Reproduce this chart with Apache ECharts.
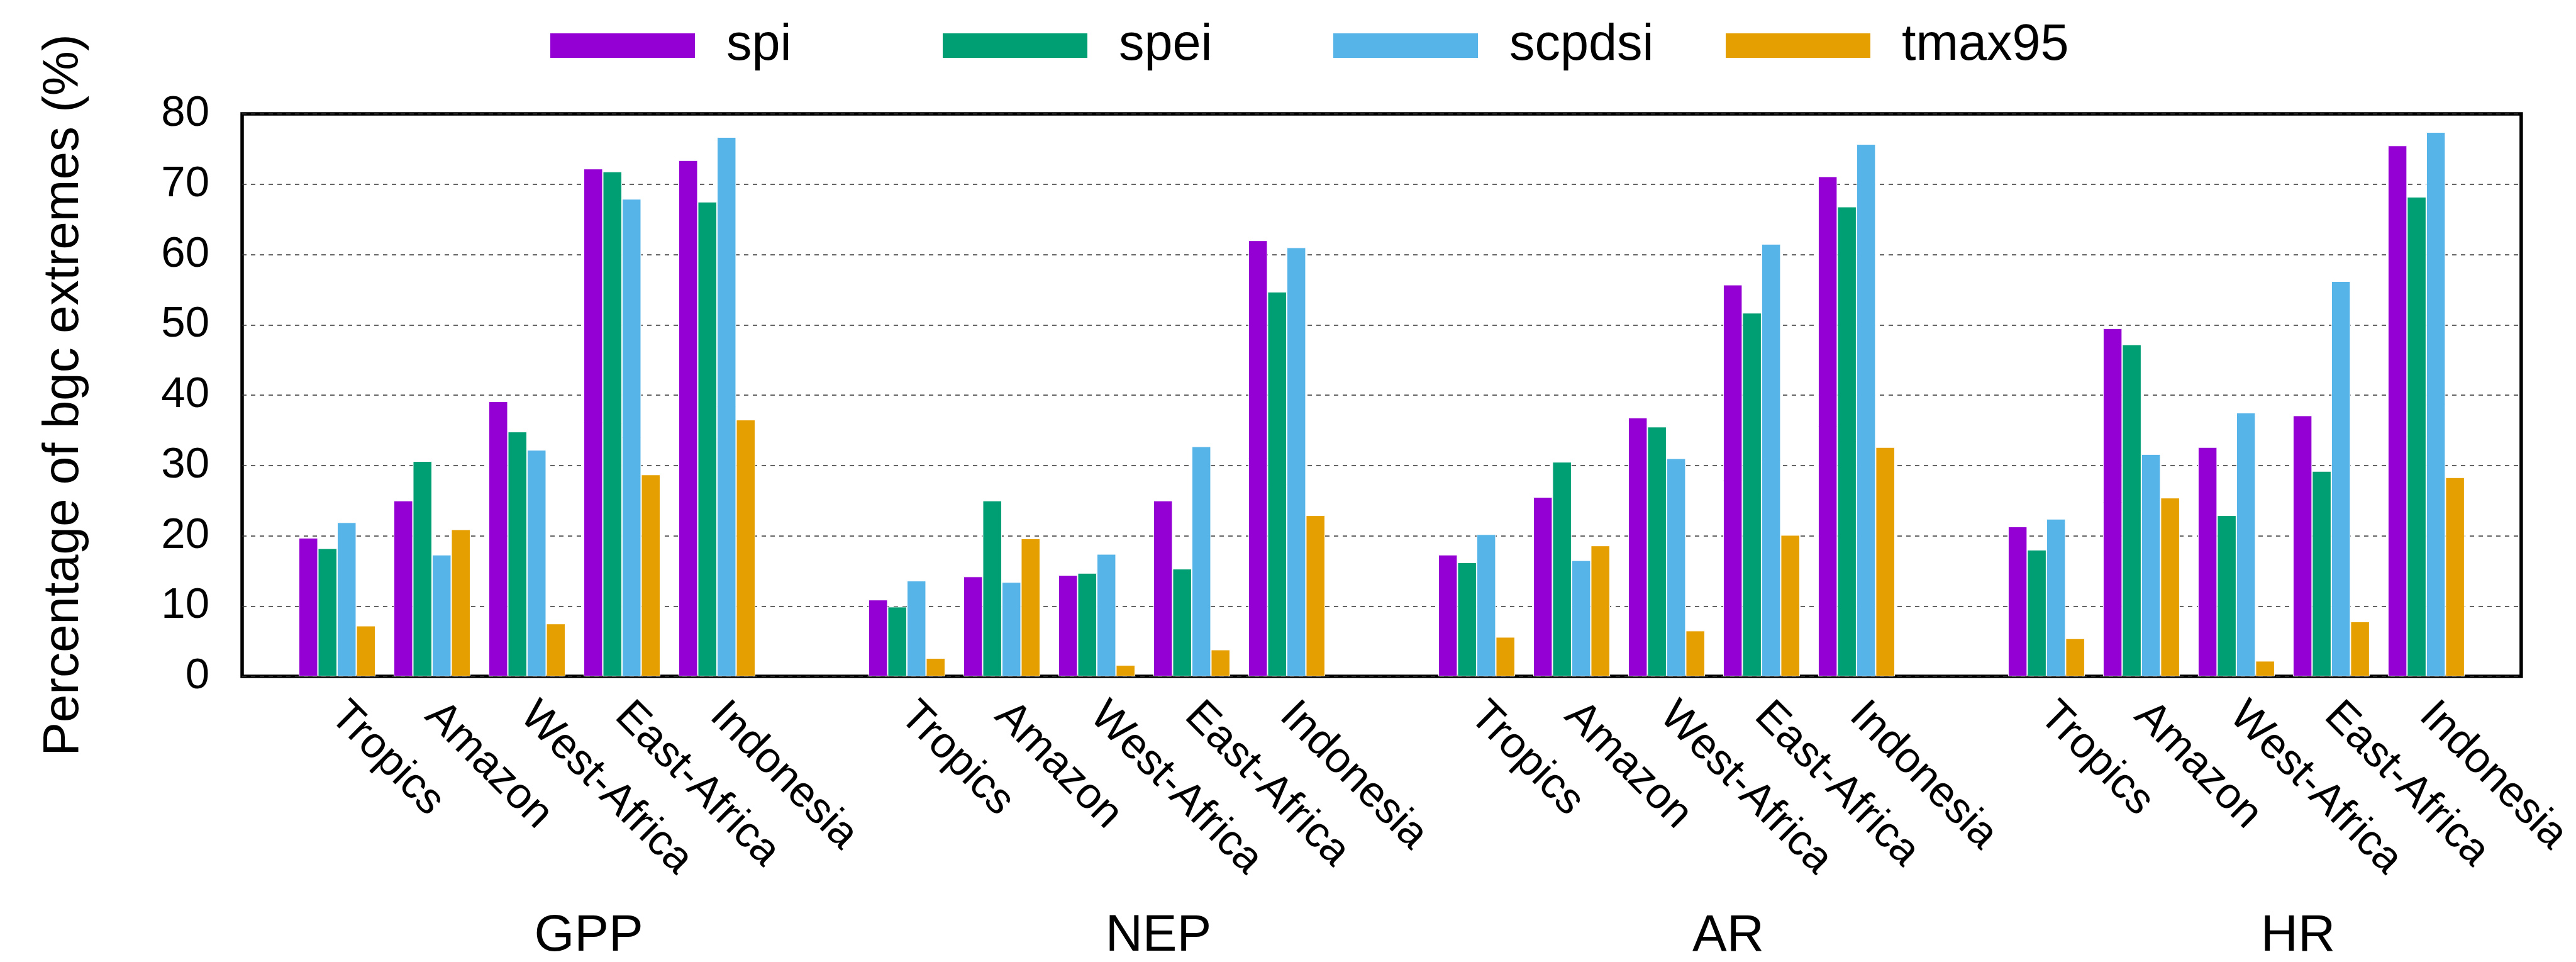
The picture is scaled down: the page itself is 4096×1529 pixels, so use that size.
<!DOCTYPE html>
<html>
<head>
<meta charset="utf-8">
<script src="https://cdn.jsdelivr.net/npm/echarts@6/dist/echarts.min.js"></script>
<style>
  html, body { margin: 0; padding: 0; background: #fff; }
  #main { width: 4096px; height: 1529px; }
</style>
</head>
<body>
<div id="main"></div>
<script>
// regions per variable block, and the variable blocks
let regions = ['Tropics', 'Amazon', 'West-Africa', 'East-Africa', 'Indonesia'];
let groups = ['GPP', 'NEP', 'AR', 'HR'];
let seriesNames = ['spi', 'spei', 'scpdsi', 'tmax95'];

// values in %, order: GPP(5) NEP(5) AR(5) HR(5)
let spi = [19.7, 25.0, 39.1, 72.2, 73.4, 10.9, 14.2, 14.4, 25.0, 62.0, 17.3, 25.5, 36.8, 55.7, 71.1, 21.3, 49.5, 32.6, 37.1, 75.5];
let spei = [18.2, 30.6, 34.8, 71.8, 67.5, 9.9, 25.0, 14.7, 15.3, 54.7, 16.2, 30.5, 35.5, 51.7, 66.8, 18.0, 47.2, 22.9, 29.2, 68.2];
let scpdsi = [21.9, 17.3, 32.2, 67.9, 76.7, 13.6, 13.4, 17.4, 32.7, 61.0, 20.2, 16.5, 31.0, 61.5, 75.7, 22.4, 31.6, 37.5, 56.2, 77.4];
let tmax95 = [7.2, 20.9, 7.5, 28.7, 36.5, 2.6, 19.6, 1.6, 3.8, 22.9, 5.6, 18.6, 6.5, 20.1, 32.6, 5.4, 25.4, 2.2, 7.8, 28.3];

let yTicks = [0, 10, 20, 30, 40, 50, 60, 70, 80];

let colors = ['#9400d3', '#009e73', '#56b4e9', '#e69f00'];
let font = 'Liberation Sans';

// one empty slot before each block and one at the end
let cats = [];
function spread(vals) {
  let out = [];
  groups.forEach((g, gi) => {
    out.push(null);
    for (let i = 0; i < regions.length; i++) out.push(vals[gi * regions.length + i]);
  });
  out.push(null);
  return out;
}
groups.forEach(() => {
  cats.push('');
  regions.forEach(r => cats.push(r));
});
cats.push('');

let allData = [spi, spei, scpdsi, tmax95];
let legendLeft = [868, 1492, 2113, 2737];

let chart = echarts.init(document.getElementById('main'), null, { renderer: 'canvas' });

let option = {
  animation: false,
  backgroundColor: '#fff',
  textStyle: { fontFamily: font, color: '#000' },
  legend: seriesNames.map((name, i) => ({
    data: [name],
    left: legendLeft[i],
    top: 27,
    icon: 'rect',
    itemWidth: 232,
    itemHeight: 41,
    selectedMode: false,
    textStyle: { fontFamily: font, fontSize: 81, color: '#000', padding: [0, 0, 0, 44] }
  })),
  grid: {
    left: 385,
    right: 21,
    top: 181,
    bottom: 442,
    show: true,
    borderColor: '#000',
    borderWidth: 5.5,
    containLabel: false
  },
  xAxis: [{
    type: 'category',
    data: cats,
    boundaryGap: false,
    axisLine: { show: false },
    axisTick: { show: false },
    splitLine: { show: false },
    axisLabel: {
      interval: 0,
      rotate: -45,
      margin: 52,
      fontSize: 69,
      fontFamily: font,
      color: '#000'
    }
  }, {
    type: 'category',
    data: groups,
    position: 'bottom',
    axisLine: { show: false },
    axisTick: { show: false },
    splitLine: { show: false },
    axisLabel: {
      interval: 0,
      margin: 372,
      fontSize: 82,
      fontFamily: font,
      color: '#000',
      padding: [0, 0, 0, 196]
    }
  }],
  yAxis: {
    type: 'value',
    min: yTicks[0],
    max: yTicks[yTicks.length - 1],
    interval: 10,
    name: 'Percentage of bgc extremes (%)',
    nameLocation: 'middle',
    nameGap: 243,
    nameTextStyle: { fontSize: 80, fontFamily: font, color: '#000' },
    axisLine: { show: false },
    axisTick: { show: false },
    axisLabel: { fontSize: 69, margin: 52, fontFamily: font, color: '#000' },
    splitLine: { lineStyle: { color: '#333', width: 1.5, type: [7, 7] } }
  },
  series: seriesNames.map((name, i) => ({
    name: name,
    type: 'bar',
    data: spread(allData[i]),
    barWidth: 30.5,
    barGap: '0%',
    itemStyle: { color: colors[i], borderColor: '#fff', borderWidth: 1 }
  }))
};

chart.setOption(option);
</script>
</body>
</html>
